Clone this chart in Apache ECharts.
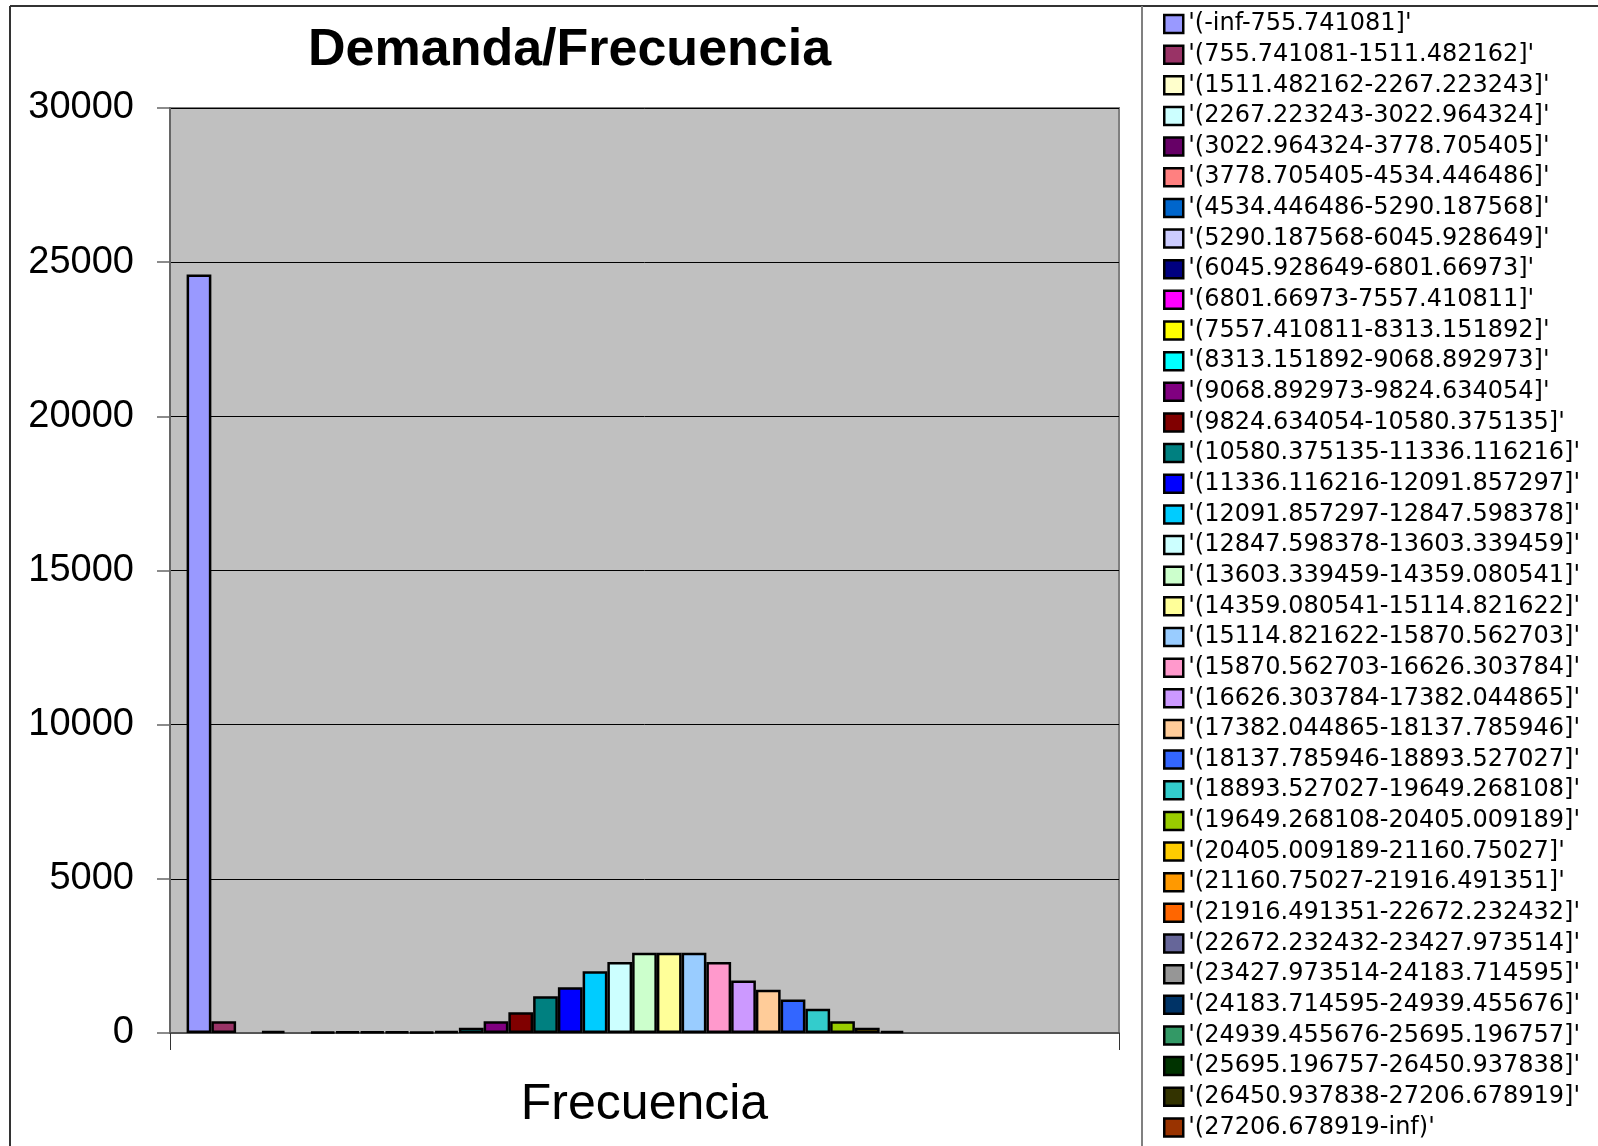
<!DOCTYPE html>
<html>
<head>
<meta charset="utf-8">
<title>Demanda/Frecuencia</title>
<script src="https://cdn.jsdelivr.net/npm/echarts@6/dist/echarts.min.js"></script>
<style>
  html,body{margin:0;padding:0;background:#fff}
  #chart{width:1598px;height:1146px}
</style>
</head>
<body>
<div id="chart"></div>
<script>
// intervalos del histograma (una serie por intervalo)
var intervalos = [
  "'(-inf-755.741081]'",
  "'(755.741081-1511.482162]'",
  "'(1511.482162-2267.223243]'",
  "'(2267.223243-3022.964324]'",
  "'(3022.964324-3778.705405]'",
  "'(3778.705405-4534.446486]'",
  "'(4534.446486-5290.187568]'",
  "'(5290.187568-6045.928649]'",
  "'(6045.928649-6801.66973]'",
  "'(6801.66973-7557.410811]'",
  "'(7557.410811-8313.151892]'",
  "'(8313.151892-9068.892973]'",
  "'(9068.892973-9824.634054]'",
  "'(9824.634054-10580.375135]'",
  "'(10580.375135-11336.116216]'",
  "'(11336.116216-12091.857297]'",
  "'(12091.857297-12847.598378]'",
  "'(12847.598378-13603.339459]'",
  "'(13603.339459-14359.080541]'",
  "'(14359.080541-15114.821622]'",
  "'(15114.821622-15870.562703]'",
  "'(15870.562703-16626.303784]'",
  "'(16626.303784-17382.044865]'",
  "'(17382.044865-18137.785946]'",
  "'(18137.785946-18893.527027]'",
  "'(18893.527027-19649.268108]'",
  "'(19649.268108-20405.009189]'",
  "'(20405.009189-21160.75027]'",
  "'(21160.75027-21916.491351]'",
  "'(21916.491351-22672.232432]'",
  "'(22672.232432-23427.973514]'",
  "'(23427.973514-24183.714595]'",
  "'(24183.714595-24939.455676]'",
  "'(24939.455676-25695.196757]'",
  "'(25695.196757-26450.937838]'",
  "'(26450.937838-27206.678919]'",
  "'(27206.678919-inf)'"
]

// frecuencia de cada intervalo
var frecuencias = [
  24600, 380, 0, 70, 0, 40, 50, 45, 55, 40,
  60, 170, 380, 670, 1190, 1480, 2000, 2300, 2600, 2600,
  2600, 2300, 1700, 1400, 1090, 790, 380, 170, 70, 0,
  0, 0, 0, 0, 0, 0, 0
]

var categorias = ['Frecuencia']
var yTicks = [0, 5000, 10000, 15000, 20000, 25000, 30000]

// paleta de series de Excel
var colores = [
  '#9999FF','#993366','#FFFFCC','#CCFFFF','#660066','#FF8080','#0066CC','#CCCCFF',
  '#000080','#FF00FF','#FFFF00','#00FFFF','#800080','#800000','#008080','#0000FF',
  '#00CCFF','#CCFFFF','#CCFFCC','#FFFF99','#99CCFF','#FF99CC','#CC99FF','#FFCC99',
  '#3366FF','#33CCCC','#99CC00','#FFCC00','#FF9900','#FF6600','#666699','#969696',
  '#003366','#339966','#003300','#333300','#993300'
]

var chart = echarts.init(document.getElementById('chart'))

var series = []
intervalos.forEach(function(nombre, i){
  var v = frecuencias[i]
  series.push({
    name: nombre,
    type: 'bar',
    barGap: '0%',
    barCategoryGap: '3.5%',
    // los intervalos vacios no se dibujan
    data: [v === 0 ? null : v],
    itemStyle: {
      color: colores[i],
      borderColor: '#000',
      borderWidth: 2.5
    },
    emphasis: {disabled: true}
  })
})

var option = {
  backgroundColor: '#fff',
  animation: false,
  title: {
    text: 'Demanda/Frecuencia',
    left: 308,
    top: 25,
    padding: 0,
    textStyle: {
      fontFamily: 'Liberation Sans',
      fontWeight: 'bold',
      fontSize: 52,
      lineHeight: 52,
      color: '#000'
    }
  },
  legend: {
    orient: 'vertical',
    left: 1163,
    top: 12,
    padding: 0,
    icon: 'rect',
    itemWidth: 19,
    itemHeight: 18,
    itemGap: 6.65,
    selectedMode: false,
    data: intervalos,
    itemStyle: {borderColor: '#000', borderWidth: 2.5},
    textStyle: {
      fontFamily: 'DejaVu Sans',
      fontSize: 24,
      lineHeight: 24,
      color: '#000'
    }
  },
  grid: {
    show: true,
    left: 170,
    top: 108,
    right: 479,
    bottom: 113,
    backgroundColor: '#C0C0C0',
    borderColor: '#808080',
    borderWidth: 2
  },
  xAxis: {
    type: 'category',
    data: categorias,
    axisLine: {lineStyle: {color: '#555', width: 2}},
    axisTick: {show: true, length: 17, lineStyle: {color: '#333', width: 1}},
    axisLabel: {
      margin: 47,
      fontFamily: 'Liberation Sans',
      fontSize: 50,
      lineHeight: 50,
      color: '#000'
    }
  },
  yAxis: {
    type: 'value',
    min: yTicks[0],
    max: yTicks[yTicks.length - 1],
    interval: yTicks[1] - yTicks[0],
    axisLine: {show: true, lineStyle: {color: '#666', width: 2}},
    axisTick: {show: true, length: 13, lineStyle: {color: '#666', width: 1.5}},
    splitLine: {lineStyle: {color: '#000', width: 1}},
    axisLabel: {
      margin: 36,
      fontFamily: 'Liberation Sans',
      fontSize: 38,
      color: '#000',
      formatter: function(v){ return String(v) }
    }
  },
  // marco del grafico y separador de la leyenda
  graphic: [
    {type: 'line', shape: {x1: 10, y1: 6, x2: 1598, y2: 6}, style: {stroke: '#333', lineWidth: 2}, silent: true},
    {type: 'line', shape: {x1: 10, y1: 6, x2: 10, y2: 1146}, style: {stroke: '#333', lineWidth: 2}, silent: true},
    {type: 'line', shape: {x1: 1142, y1: 6, x2: 1142, y2: 1146}, style: {stroke: '#808080', lineWidth: 2}, silent: true}
  ],
  series: series
}

chart.setOption(option)
</script>
</body>
</html>
